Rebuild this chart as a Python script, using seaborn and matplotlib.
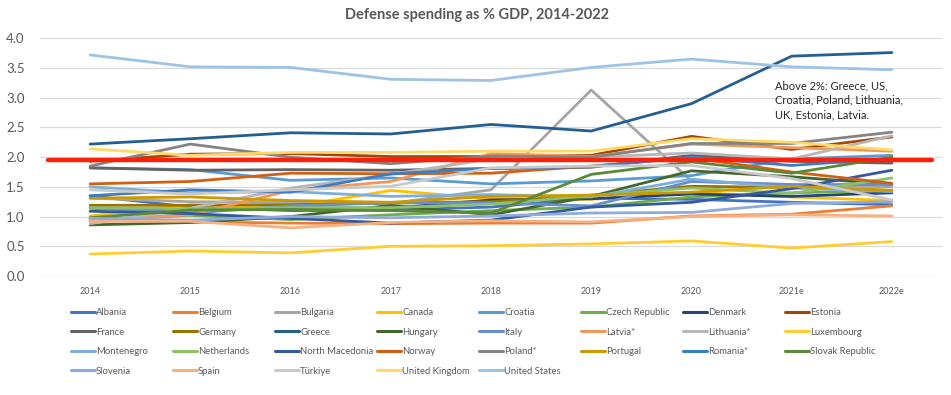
import pandas as pd
import numpy as np
import matplotlib
matplotlib.use('Agg')
import matplotlib.pyplot as plt
import seaborn as sns
from matplotlib.lines import Line2D

# data section (% of GDP)
years = ['2014', '2015', '2016', '2017', '2018', '2019', '2020', '2021e', '2022e']

countries = ['Albania', 'Belgium', 'Bulgaria', 'Canada', 'Croatia', 'Czech Republic',
             'Denmark', 'Estonia', 'France', 'Germany', 'Greece', 'Hungary', 'Italy',
             'Latvia*', 'Lithuania*', 'Luxembourg', 'Montenegro', 'Netherlands',
             'North Macedonia', 'Norway', 'Poland*', 'Portugal', 'Romania*',
             'Slovak Republic', 'Slovenia', 'Spain', 'Türkiye', 'United Kingdom',
             'United States']

albania = [1.35, 1.16, 1.10, 1.11, 1.16, 1.31, 1.29, 1.24, 1.20]
belgium = [0.97, 0.91, 0.89, 0.88, 0.89, 0.89, 1.01, 1.04, 1.18]
bulgaria = [1.31, 1.25, 1.24, 1.22, 1.45, 3.13, 1.60, 1.53, 1.50]
canada = [1.01, 1.20, 1.16, 1.44, 1.30, 1.29, 1.41, 1.33, 1.27]
croatia = [1.82, 1.79, 1.61, 1.65, 1.55, 1.60, 1.69, 1.97, 2.03]
czech = [0.95, 1.02, 0.95, 1.03, 1.10, 1.16, 1.33, 1.40, 1.44]
denmark = [1.15, 1.11, 1.15, 1.14, 1.28, 1.30, 1.38, 1.34, 1.40]
estonia = [1.93, 2.05, 2.06, 2.01, 2.01, 2.03, 2.35, 2.13, 2.34]
france = [1.82, 1.78, 1.79, 1.78, 1.81, 1.83, 2.03, 1.93, 1.90]
germany = [1.19, 1.19, 1.20, 1.23, 1.25, 1.36, 1.51, 1.49, 1.44]
greece = [2.22, 2.31, 2.41, 2.39, 2.55, 2.44, 2.90, 3.70, 3.76]
hungary = [0.86, 0.90, 1.00, 1.19, 1.03, 1.34, 1.77, 1.67, 1.54]
italy = [1.14, 1.06, 1.18, 1.23, 1.23, 1.18, 1.59, 1.54, 1.54]
latvia = [0.93, 1.03, 1.44, 1.59, 2.06, 2.01, 2.22, 2.16, 2.10]
lithuania = [0.88, 1.14, 1.48, 1.71, 1.97, 2.00, 2.07, 1.97, 2.36]
luxembourg = [0.37, 0.42, 0.39, 0.50, 0.51, 0.54, 0.59, 0.47, 0.58]
montenegro = [1.50, 1.40, 1.42, 1.34, 1.37, 1.33, 1.63, 1.48, 1.42]
netherlands = [1.15, 1.13, 1.15, 1.15, 1.21, 1.35, 1.48, 1.39, 1.65]
north_macedonia = [1.09, 1.05, 0.97, 0.89, 0.94, 1.16, 1.24, 1.47, 1.78]
norway = [1.55, 1.59, 1.73, 1.72, 1.73, 1.85, 1.99, 1.75, 1.56]
poland = [1.85, 2.22, 2.00, 1.89, 2.02, 2.00, 2.23, 2.23, 2.42]
portugal = [1.31, 1.33, 1.27, 1.24, 1.34, 1.36, 1.41, 1.51, 1.44]
romania = [1.35, 1.45, 1.41, 1.72, 1.81, 1.84, 2.00, 1.86, 1.98]
slovakia = [0.98, 1.11, 1.12, 1.10, 1.06, 1.71, 1.92, 1.73, 2.00]
slovenia = [0.97, 0.94, 1.00, 0.98, 1.01, 1.06, 1.07, 1.22, 1.25]
spain = [0.92, 0.92, 0.81, 0.90, 0.93, 0.91, 1.00, 1.03, 1.01]
turkiye = [1.45, 1.38, 1.45, 1.51, 1.82, 1.85, 1.86, 1.64, 1.28]
uk = [2.14, 2.03, 2.08, 2.08, 2.10, 2.10, 2.31, 2.25, 2.12]
us = [3.72, 3.52, 3.51, 3.31, 3.29, 3.51, 3.65, 3.52, 3.47]

nato_target = 1.96
note = 'Above 2%: Greece, US,\nCroatia, Poland, Lithuania,\nUK, Estonia, Latvia.'

# excel default series colours
colors = ['#4472C4', '#ED7D31', '#A5A5A5', '#FFC000', '#5B9BD5', '#70AD47',
          '#264478', '#9E480E', '#636363', '#997300', '#255E91', '#43682B',
          '#698ED0', '#F1975A', '#B7B7B7', '#FFCD33', '#7CAFDD', '#8CC168',
          '#335AA1', '#D26012', '#848484', '#CC9A00', '#3C7DC4', '#5A8A39',
          '#8FAADC', '#F4B183', '#C9C9C9', '#FFD966', '#9DC3E6']

series = [albania, belgium, bulgaria, canada, croatia, czech, denmark, estonia,
          france, germany, greece, hungary, italy, latvia, lithuania, luxembourg,
          montenegro, netherlands, north_macedonia, norway, poland, portugal,
          romania, slovakia, slovenia, spain, turkiye, uk, us]

df = pd.DataFrame(dict(zip(countries, series)))
df['pos'] = range(len(years))
df = df.melt(id_vars='pos', var_name='country', value_name='pct')

palette = dict(zip(countries, colors))

# plot section
sns.set_style('white')
plt.rcParams['font.family'] = ['Lato', 'DejaVu Sans']

fig = plt.figure(figsize=(9.51, 3.95), dpi=100)
ax = fig.add_axes([40 / 951, 1 - 276 / 395, 902 / 951, (276 - 38.3) / 395])

sns.lineplot(data=df, x='pos', y='pct', hue='country', hue_order=countries,
             palette=palette, linewidth=2.0, legend=False, ax=ax)

ax.axhline(nato_target, xmin=0.009, xmax=0.989, color='#FF200A', lw=3.2, zorder=10)

ax.set_xlim(-0.5, len(years) - 0.5)
ax.set_ylim(0, 4.0)
ax.set_xticks(range(len(years)))
ax.set_xticklabels(years)
ax.set_yticks(np.arange(0, 4.01, 0.5))
ax.set_yticklabels([f'{v:.1f}' for v in np.arange(0, 4.01, 0.5)])
ax.set_xlabel('')
ax.set_ylabel('')
ax.grid(axis='y', color='#D9D9D9', lw=0.9)
ax.grid(axis='x', visible=False)
ax.set_axisbelow(True)
for s in ax.spines.values():
    s.set_visible(False)
ax.tick_params(axis='y', length=0, labelsize=9.5, labelcolor='#595959', pad=11)
ax.tick_params(axis='x', length=0, labelsize=6.5, labelcolor='#595959', pad=8)

fig.text(0.502, 1 - 15 / 395, 'Defense spending as % GDP, 2014-2022', ha='center',
         va='center', fontsize=10.5, fontweight='bold', color='#595959')

fig.text(775 / 951, 1 - 80 / 395, note, ha='left', va='top', fontsize=8,
         color='#262626', linespacing=1.42)

# legend: excel style, 8 equal columns filled row by row
ncol = 8
for j in range(ncol):
    idx = list(range(j, len(countries), ncol))
    handles = [Line2D([], [], color=colors[i], lw=2.2) for i in idx]
    labels = [countries[i] for i in idx]
    fig.legend(handles, labels, loc='upper left',
               bbox_to_anchor=((71 + 102.0 * j) / 951, 1 - 308 / 395),
               frameon=False, fontsize=6.8, labelcolor='#595959',
               handlelength=2.5, handletextpad=0.15, labelspacing=1.12,
               borderpad=0, borderaxespad=0)

fig.savefig('out.png', dpi=100)
